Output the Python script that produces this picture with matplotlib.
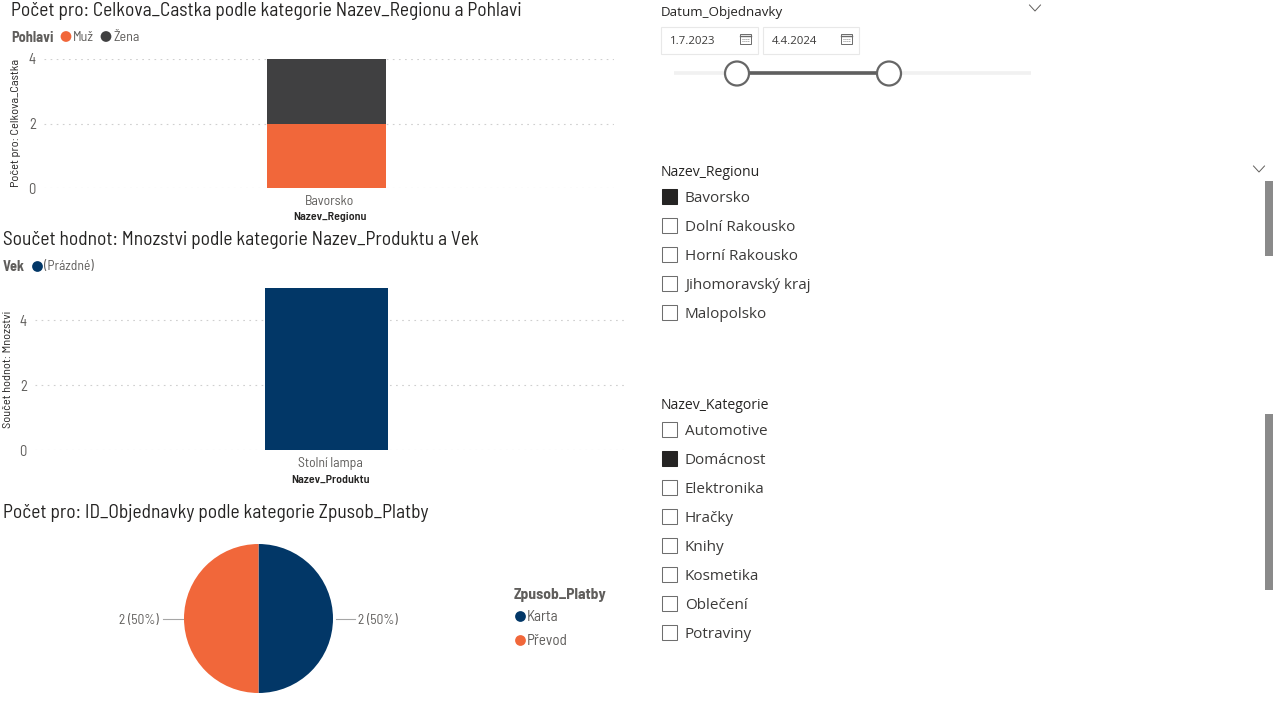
import matplotlib
matplotlib.use("Agg")
import matplotlib.pyplot as plt
from matplotlib.patches import Rectangle, Circle
from matplotlib.transforms import ScaledTranslation

W, H = 1276, 717
DIN = ["Barlow Semi Condensed", "Roboto", "DejaVu Sans"]
SEGOE = ["Open Sans", "Noto Sans", "DejaVu Sans"]
plt.rcParams["font.family"] = DIN

# data
region_cat = ["Bavorsko"]
muz = [2]
zena = [2]
region_ticks = [0, 2, 4]
product_cat = ["Stolní lampa"]
mnozstvi = [5]
product_ticks = [0, 2, 4]
pay_labels = ["Karta", "Převod"]
pay_values = [2, 2]
regions = ["Bavorsko", "Dolní Rakousko", "Horní Rakousko", "Jihomoravský kraj", "Malopolsko"]
regions_on = [True, False, False, False, False]
kategorie = ["Automotive", "Domácnost", "Elektronika", "Hračky", "Knihy", "Kosmetika", "Oblečení", "Potraviny"]
kategorie_on = [False, True, False, False, False, False, False, False]
date_from, date_to = "1.7.2023", "4.4.2024"

ORANGE, DARK, NAVY = "#F1673A", "#404041", "#023767"
TITLE, GREY, LEG = "#252423", "#605E5C", "#605E5C"

fig = plt.figure(figsize=(W / 100, H / 100), dpi=100, facecolor="white")

def px_axes(l, t, r, b, **kw):
    return fig.add_axes([l / W, 1 - b / H, (r - l) / W, (b - t) / H], **kw)

ui = px_axes(0, 0, W, H)
ui.set_xlim(0, W); ui.set_ylim(H, 0); ui.axis("off"); ui.set_zorder(5); ui.patch.set_alpha(0)

def txt(x, y, s, size=10, color=TITLE, weight="normal", ha="left", rot=0, family=None):
    fam = family or DIN
    if rot:
        return ui.text(x, y, s, fontsize=size, color=color, fontweight=weight, ha="center", va="center",
                       rotation=rot, family=fam)
    return ui.text(x, y + 0.35 * size * 100 / 72, s, fontsize=size, color=color, fontweight=weight,
                   ha=ha, va="baseline", family=fam)

def style_bar(ax, ticks, top, center_px, per_unit, left_px, right_px):
    ax.set_xlim((left_px - center_px) / per_unit, (right_px - center_px) / per_unit)
    ax.set_ylim(0, top)
    for s in ax.spines.values():
        s.set_visible(False)
    ax.set_yticks(ticks)
    ax.tick_params(axis="y", length=0, labelsize=10.5, labelcolor=GREY, pad=6)
    ax.tick_params(axis="x", length=0, labelsize=9.9, labelcolor=GREY, pad=5)
    shift = ScaledTranslation(3.5 / 100, 0, fig.dpi_scale_trans)
    for lab in ax.get_xticklabels():
        lab.set_transform(lab.get_transform() + shift)
    ax.grid(axis="y", color="#CFCFCF", lw=0.8, ls=(0, (1.5, 4)))
    ax.set_axisbelow(True)
    ax.patch.set_alpha(0)

# chart 1
a1 = px_axes(44, 59, 614, 188)
a1.bar(region_cat, muz, width=0.6, color=ORANGE, label="Muž")
a1.bar(region_cat, zena, width=0.6, bottom=muz, color=DARK, label="Žena")
a1.set_xticks([0], region_cat)
style_bar(a1, region_ticks, 4, 326.5, 199, 44, 614)
txt(11, 9, "Počet pro: Celkova_Castka podle kategorie Nazev_Regionu a Pohlavi", 13.95)
txt(11, 36.5, "Pohlavi", 10.3, LEG, "bold")
ui.scatter([66, 106], [36.5, 36.5], s=60, color=[ORANGE, DARK], linewidths=0)
txt(73, 36.5, "Muž", 10, GREY); txt(113, 36.5, "Žena", 10, GREY)
txt(16, 123, "Počet pro: Celkova_Castka", 8.9, "#252423", rot=90)
txt(330, 216, "Nazev_Regionu", 8.7, "#252423", "semibold", ha="center")

# chart 2
a2 = px_axes(35, 288, 624, 450)
a2.bar(product_cat, mnozstvi, width=0.6, color=NAVY)
a2.set_xticks([0], product_cat)
style_bar(a2, product_ticks, 5, 326.5, 205, 35, 624)
txt(3, 238, "Součet hodnot: Mnozstvi podle kategorie Nazev_Produktu a Vek", 13.95)
txt(3, 265.5, "Vek", 10.3, LEG, "bold")
ui.scatter([37], [265.5], s=60, color=[NAVY], linewidths=0)
txt(44, 265.5, "(Prázdné)", 9.8, GREY)
txt(8.5, 369.5, "Součet hodnot: Mnozstvi", 8.9, "#252423", rot=90)
txt(330, 479, "Nazev_Produktu", 8.7, "#252423", "semibold", ha="center")

# chart 3
a3 = px_axes(184, 544, 333, 693)
a3.pie(pay_values, colors=[NAVY, ORANGE], startangle=90, counterclock=False, radius=1,
       wedgeprops={"linewidth": 0})
a3.set_xlim(-1, 1); a3.set_ylim(-1, 1)
txt(3, 511, "Počet pro: ID_Objednavky podle kategorie Zpusob_Platby", 13.95)
for x0, x1, tx, ha, v in [(336, 355, 358, "left", pay_values[0]), (163, 183, 159, "right", pay_values[1])]:
    ui.plot([x0, x1], [618.5, 618.5], color="#A6A6A6", lw=0.8)
    pct = round(v / sum(pay_values) * 100)
    txt(tx, 619.5, f"{v} ({pct}%)", 9.7, GREY, ha=ha)
txt(514, 594, "Zpusob_Platby", 11.2, LEG, "bold")
for y, c, lab in zip([615.5, 640], [NAVY, ORANGE], pay_labels):
    ui.scatter([520], [y], s=60, color=[c], linewidths=0)
    txt(527, y, lab, 10.9, GREY)

# date slicer
txt(661, 11, "Datum_Objednavky", 9.65, family=SEGOE)
def chevron(x, y):
    ui.plot([x - 5.5, x, x + 5.5], [y - 3, y + 3, y - 3], color="#605E5C", lw=0.7)
chevron(1035, 8); chevron(1259, 169)
for x0, x1, s in [(660, 757, date_from), (762, 858, date_to)]:
    ui.add_patch(Rectangle((x0 + .5, 26.5), x1 - x0, 27, fc="white", ec="#E8E8E8", lw=0.8))
    txt(x0 + 10, 40, s, 8.2, "#3b3a39", family=SEGOE)
    ix = x1 - 17
    ui.add_patch(Rectangle((ix, 33.5), 11, 10, fc="white", ec="#6B6B6B", lw=0.7))
    ui.plot([ix, ix + 11], [36, 36], color="#6B6B6B", lw=1)
    for yy in (38.5, 40.5):
        ui.plot([ix + 2, ix + 9], [yy, yy], color="#8A8A8A", lw=0.7, ls=(0, (1, 1)))
ui.plot([674, 1031], [73, 73], color="#F1F1F1", lw=2.6, solid_capstyle="butt")
ui.plot([737, 889], [73, 73], color="#5F5F5F", lw=2.6, solid_capstyle="butt")
for x in (737, 889):
    ui.add_patch(Circle((x, 73.5), 12, fc="white", ec="#666666", lw=1.6, zorder=4))

# list slicers
def slicer(title, ty, items, states, y0, bar):
    txt(661, ty, title, 10.1, family=SEGOE)
    for i, (it, on) in enumerate(zip(items, states)):
        y = y0 + 29 * i
        ui.add_patch(Rectangle((661.5, y - 7.5), 15, 15, fc="#252423" if on else "white",
                               ec="#252423" if on else "#6E6E6E", lw=0.75))
        txt(685, y + 0.5, it, 10.95, "#3b3a39", family=SEGOE)
    ui.add_patch(Rectangle((1265, bar[0]), 8, bar[1] - bar[0], fc="#8A8A8A", ec="none"))

slicer("Nazev_Regionu", 171, regions, regions_on, 196, (181, 256))
slicer("Nazev_Kategorie", 404, kategorie, kategorie_on, 429, (414, 590))

fig.savefig("out.png", dpi=100, facecolor="white")
